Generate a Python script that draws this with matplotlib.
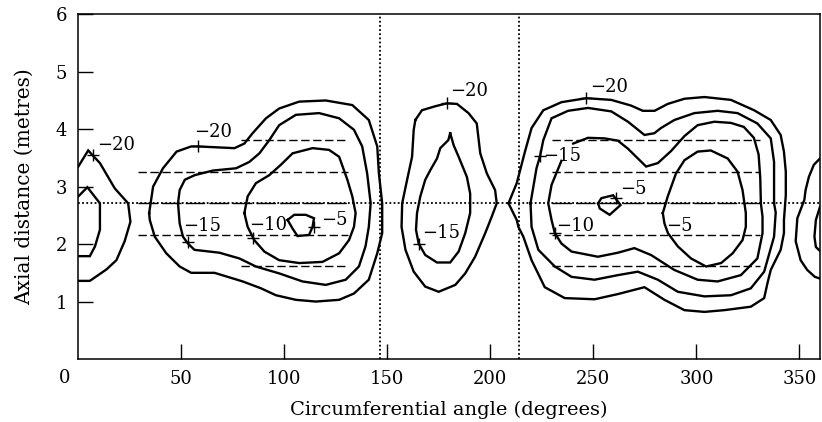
import matplotlib
matplotlib.use("Agg")
import matplotlib.pyplot as plt

plt.rcParams['font.family'] = ['DejaVu Serif']
plt.rcParams['font.size'] = 13

# contour lines (angle in degrees, axial distance in metres)
# left edge, wraps round from 360
left_m20_x = [0, 4.8, 10.5, 17.7, 24.2, 25.3, 22.5, 18.5, 13.7, 5.6, 0]
left_m20_y = [3.35, 3.63, 3.41, 2.97, 2.71, 2.39, 2.05, 1.72, 1.56, 1.36, 1.36]
left_m15_x = [0, 4.4, 10.5, 10.5, 8.1, 5.6, 0]
left_m15_y = [2.83, 2.99, 2.71, 2.25, 1.96, 1.79, 1.79]

# right edge
right_m20_x = [360, 357.0, 354.6, 353.0, 352.4, 349.0, 348.2, 350.6, 353.8, 357.5, 360]
right_m20_y = [3.49, 3.38, 3.17, 2.94, 2.77, 2.45, 2.05, 1.72, 1.55, 1.43, 1.40]
right_m15_x = [360, 358.0, 357.3, 358.0, 360]
right_m15_y = [2.65, 2.42, 2.13, 1.95, 1.88]

# first lobe (30-150 deg)
a_m20_x = [34.4, 36.3, 41.1, 47.7, 54.8, 58.0, 75.8, 80.6, 84.6, 91.1, 97.5, 107.2, 120.1,
           133.0, 141.0, 145.1, 145.9, 147.5, 147.5, 145.1, 141.0, 133.8, 126.6, 115.3,
           105.6, 95.9, 88.7, 79.8, 72.5, 66.1, 54.8, 49.2, 42.7, 37.1, 34.7, 34.4]
a_m20_y = [2.54, 3.00, 3.32, 3.61, 3.70, 3.70, 3.67, 3.75, 3.93, 4.19, 4.36, 4.48, 4.50,
           4.42, 4.16, 3.70, 3.23, 2.71, 2.19, 1.84, 1.38, 1.14, 1.03, 1.00,
           1.03, 1.11, 1.23, 1.35, 1.43, 1.50, 1.50, 1.61, 1.84, 2.13, 2.42, 2.54]
a_m15_x = [48.4, 49.2, 51.7, 56.5, 65.3, 76.6, 83.0, 87.9, 92.7, 97.5, 105.6, 116.9, 126.6,
           133.8, 137.8, 140.2, 141.9, 141.0, 139.4, 136.2, 129.8, 120.1, 108.8, 97.5,
           86.2, 78.2, 68.5, 56.4, 53.2, 50.8, 49.2, 48.4]
a_m15_y = [2.71, 2.94, 3.12, 3.20, 3.28, 3.32, 3.43, 3.58, 3.81, 4.07, 4.25, 4.28, 4.19,
           3.99, 3.70, 3.23, 2.71, 2.30, 1.96, 1.61, 1.38, 1.29, 1.35, 1.49,
           1.61, 1.75, 1.85, 1.90, 2.01, 2.13, 2.36, 2.71]
a_m10_x = [80.6, 82.2, 86.2, 92.7, 98.3, 104.0, 113.7, 121.7, 126.6, 130.6, 133.0, 134.6,
           133.8, 131.4, 126.6, 118.5, 107.2, 97.5, 90.3, 85.4, 82.2, 80.6]
a_m10_y = [2.54, 2.83, 3.06, 3.20, 3.38, 3.58, 3.67, 3.64, 3.52, 3.12, 2.83, 2.54,
           2.30, 2.07, 1.84, 1.69, 1.67, 1.72, 1.87, 2.07, 2.30, 2.54]
a_m5_x = [101.6, 104.8, 110.4, 114.4, 113.7, 112.0, 106.4, 104.0, 101.6]
a_m5_y = [2.42, 2.51, 2.51, 2.45, 2.30, 2.16, 2.14, 2.27, 2.42]

# second lobe (155-205 deg)
b_m20_x = [163.6, 166.8, 173.3, 178.9, 183.8, 189.4, 193.4, 195.1, 198.3, 202.3, 203.1,
           200.7, 197.5, 192.6, 187.8, 183.0, 174.9, 168.4, 162.8, 158.8, 156.9, 157.2,
           159.6, 162.0, 162.8, 163.6]
b_m20_y = [4.16, 4.33, 4.40, 4.45, 4.44, 4.28, 4.10, 3.58, 3.23, 2.94, 2.71,
           2.48, 2.19, 1.78, 1.49, 1.29, 1.17, 1.26, 1.52, 1.90, 2.30, 2.71,
           3.12, 3.52, 3.99, 4.16]
b_m15_x = [180.5, 179.6, 175.7, 174.1, 170.9, 168.4, 166.0, 164.4, 163.9, 165.2, 168.4,
           174.1, 180.5, 184.6, 187.8, 190.2, 190.2, 188.6, 184.6, 182.2, 180.5]
b_m15_y = [3.93, 3.81, 3.67, 3.49, 3.29, 3.12, 2.83, 2.54, 2.25, 2.01, 1.81,
           1.68, 1.68, 1.87, 2.19, 2.54, 2.88, 3.17, 3.52, 3.72, 3.93]

# third lobe (210-345 deg)
c_m20_x = [208.8, 212.8, 216.8, 220.0, 225.7, 234.5, 246.6, 258.7, 268.4, 274.0, 279.7,
           286.1, 294.2, 303.9, 316.8, 328.0, 336.1, 340.9, 342.5, 343.4, 343.4, 342.5,
           342.5, 340.9, 336.1, 334.5, 332.9, 326.4, 313.5, 303.9, 294.2, 284.5, 274.8,
           261.9, 250.6, 236.1, 226.4, 220.0, 216.0, 213.6, 212.8, 208.8]
c_m20_y = [2.71, 3.06, 3.61, 4.02, 4.33, 4.47, 4.54, 4.51, 4.41, 4.32, 4.32,
           4.44, 4.53, 4.56, 4.51, 4.33, 4.16, 3.90, 3.61, 3.26, 2.85, 2.42,
           2.19, 1.90, 1.55, 1.32, 1.06, 0.91, 0.85, 0.82, 0.85, 1.03, 1.25,
           1.13, 1.04, 1.06, 1.25, 1.72, 2.13, 2.30, 2.42, 2.71]
c_m15_x = [219.5, 222.4, 224.1, 225.7, 229.7, 237.7, 247.4, 258.7, 266.8, 274.8, 279.6,
           282.8, 289.3, 299.0, 310.3, 320.0, 329.6, 336.1, 337.7, 337.7, 338.5, 337.7,
           332.9, 326.4, 316.8, 303.9, 291.0, 281.3, 271.6, 261.9, 250.6, 239.4, 231.3,
           223.3, 220.0, 219.5]
c_m15_y = [2.71, 3.32, 3.53, 3.81, 4.19, 4.32, 4.37, 4.31, 4.13, 3.90, 3.93,
           4.02, 4.16, 4.28, 4.32, 4.28, 4.10, 3.84, 3.43, 2.71, 2.55, 2.13,
           1.52, 1.23, 1.11, 1.09, 1.17, 1.38, 1.52, 1.46, 1.38, 1.43, 1.61,
           1.90, 2.30, 2.71]
# -10 line is broken where the "-15" label sits
c_m10_x = [240.2, 247.4, 255.5, 261.9, 266.8, 275.6, 281.3, 287.7, 294.2, 300.6, 308.7,
           316.7, 323.0, 327.9, 330.2, 331.0, 331.3, 332.1, 332.1, 329.6, 321.6, 310.3,
           300.6, 289.3, 278.0, 269.9, 261.9, 252.2, 239.4, 234.5, 231.3, 229.7, 228.1,
           229.7, 234.5]
c_m10_y = [3.75, 3.85, 3.84, 3.80, 3.66, 3.35, 3.41, 3.62, 3.88, 4.07, 4.13,
           4.11, 4.04, 3.85, 3.56, 3.15, 2.71, 2.48, 2.19, 1.75, 1.46, 1.35,
           1.38, 1.55, 1.81, 1.93, 1.85, 1.78, 1.87, 2.01, 2.19, 2.42, 2.71,
           3.03, 3.45]
c_m5a_x = [252.3, 253.9, 259.6, 263.2, 257.9, 253.1, 252.3]
c_m5a_y = [2.71, 2.80, 2.85, 2.68, 2.51, 2.62, 2.71]
c_m5b_x = [283.7, 286.1, 290.1, 294.2, 300.6, 307.0, 315.2, 320.0, 322.4, 324.0, 324.0,
           322.4, 317.6, 312.0, 304.7, 297.4, 291.0, 286.2, 284.5, 283.7]
c_m5b_y = [2.54, 2.83, 3.23, 3.46, 3.61, 3.63, 3.49, 3.26, 2.94, 2.54, 2.30,
           2.07, 1.84, 1.67, 1.61, 1.75, 1.96, 2.19, 2.36, 2.54]

# contour labels: text, lower-left of text, position of the "+"
label_text = ["\u221220", "\u221220", "\u221215", "\u221210", "\u22125", "\u221220", "\u221215",
              "\u221220", "\u221215", "\u22125", "\u221210", "\u22125"]
label_x = [8.9, 56.4, 50.8, 83.0, 117.7, 180.5, 166.8, 248.2, 225.7, 262.8, 232.1, 285.3]
label_y = [3.64, 3.86, 2.23, 2.25, 2.33, 4.58, 2.10, 4.65, 3.45, 2.87, 2.22, 2.23]
plus_x = [7.3, 58.0, 53.2, 84.6, 114.4, 178.9, 165.2, 246.6, 224.1, 261.1, 231.3]
plus_y = [3.55, 3.70, 2.03, 2.10, 2.30, 4.45, 2.01, 4.54, 3.53, 2.80, 2.19]

# measurement lines
vline_x = [146.6, 213.7]
mid_y = 2.71
long_dash_y = [3.26, 2.16]
short_dash_y = [3.81, 1.62]
span_a = [29, 131]
span_a_short = [79, 131]
span_c = [229.7, 331]

fig = plt.figure(figsize=(8.22, 4.22), dpi=100)
ax = fig.add_axes([78.3 / 822, 63 / 422, (820 - 78.3) / 822, (359 - 14.3) / 422])

dotted = dict(color='black', lw=1.3, linestyle=(0, (1.0, 1.3)))
ax.axhline(mid_y, **dotted)
for vx in vline_x:
    ax.axvline(vx, **dotted)

dash = dict(color='black', lw=1.0, dashes=(6, 2.6))
for yy in long_dash_y:
    ax.plot(span_a, [yy, yy], **dash)
    ax.plot(span_c, [yy, yy], **dash)
for yy in short_dash_y:
    ax.plot(span_a_short, [yy, yy], **dash)
    ax.plot(span_c, [yy, yy], **dash)
ax.plot(span_a, [mid_y, mid_y], color='black', lw=1.0, dashes=(14, 3))
ax.plot(span_c, [mid_y, mid_y], color='black', lw=1.0, dashes=(14, 3))

lines = [(left_m20_x, left_m20_y), (left_m15_x, left_m15_y),
         (right_m20_x, right_m20_y), (right_m15_x, right_m15_y),
         (a_m20_x, a_m20_y), (a_m15_x, a_m15_y), (a_m10_x, a_m10_y), (a_m5_x, a_m5_y),
         (b_m20_x, b_m20_y), (b_m15_x, b_m15_y),
         (c_m20_x, c_m20_y), (c_m15_x, c_m15_y), (c_m10_x, c_m10_y),
         (c_m5a_x, c_m5a_y), (c_m5b_x, c_m5b_y)]
for xs, ys in lines:
    ax.plot(xs, ys, color='black', lw=1.7, solid_joinstyle='miter')

ax.plot(plus_x, plus_y, linestyle='none', marker='+', ms=8, mew=1.0, color='black')
for t, tx, ty in zip(label_text, label_x, label_y):
    ax.text(tx, ty, t, ha='left', va='baseline', fontsize=13)

ax.set_xlim(0, 360)
ax.set_ylim(0, 6)
ax.set_xticks([50, 100, 150, 200, 250, 300, 350])
ax.set_yticks([1, 2, 3, 4, 5, 6])
ax.tick_params(direction='in', length=11, width=1.0, labelsize=13)
ax.tick_params(axis='x', pad=8)
ax.tick_params(axis='y', pad=8)
for sp in ax.spines.values():
    sp.set_linewidth(1.1)

ax.set_xlabel('Circumferential angle (degrees)', fontsize=14, labelpad=9)
ax.set_ylabel('Axial distance (metres)', fontsize=14.5, labelpad=16)
fig.text(65 / 822, 1 - 378 / 422, '0', ha='center', va='center', fontsize=13)

fig.savefig('out.png', dpi=100)
